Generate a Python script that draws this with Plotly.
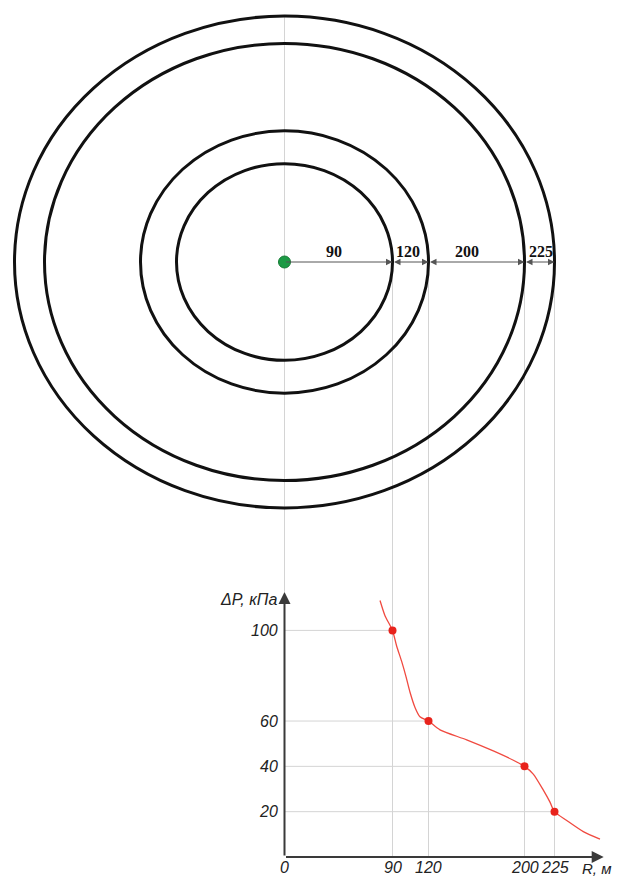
import plotly.graph_objects as go

# ---------------- data ----------------
RADII = [90, 120, 200, 225]
RADIUS_LABELS = ["90", "120", "200", "225"]
POINT_R = [90, 120, 200, 225]
POINT_DP = [100, 60, 40, 20]
CURVE_R = [79.6, 83.75, 90, 93.5, 97.7, 101.3, 104.6, 108.75, 112.9, 120,
           129.6, 151.8, 174, 190.7, 200, 207.3, 215.7, 221.25, 225,
           235.2, 249, 262.9]
CURVE_DP = [113.2, 106.5, 100, 93.0, 86.2, 79.5, 72.7, 66.0, 61.9, 60,
            56.1, 51.7, 46.8, 42.7, 40, 36.6, 29.5, 24.2, 20,
            16.1, 11.2, 7.9]
Y_TICKS = [100, 60, 40, 20]
X_TICKS = [0, 90, 120, 200, 225]
Y_TITLE = "ΔP, кПа"
X_TITLE = "R, м"

# ---------------- geometry ----------------
W, H = 619, 878
X0PX, XS = 284.5, 1.2      # x origin pixel, px per metre
CY, YS2 = 262, 1.093       # circle centre pixel, px per metre (vertical)
Y0PX, YS = 857, 2.266      # kPa zero pixel, px per kPa
AXIS_Y_TOP = 117
AXIS_X_RIGHT = 266

xrange_ = [-X0PX / XS, (W - X0PX) / XS]
y2range = [-(H - CY) / YS2, CY / YS2]
yrange = [-(H - Y0PX) / YS, Y0PX / YS]


def y_to_paper(v):
    return (v - yrange[0]) / (yrange[1] - yrange[0])


def y2_to_paper(v):
    return (v - y2range[0]) / (y2range[1] - y2range[0])


fig = go.Figure()

# curve
fig.add_trace(go.Scatter(x=CURVE_R, y=CURVE_DP, mode="lines",
                         line=dict(color="#f04a40", width=1.3, shape="spline", smoothing=0.7),
                         hoverinfo="skip", showlegend=False))
# points
fig.add_trace(go.Scatter(x=POINT_R, y=POINT_DP, mode="markers",
                         marker=dict(color="#e8231c", size=8),
                         showlegend=False))
# green centre
fig.add_trace(go.Scatter(x=[0], y=[0], yaxis="y2", mode="markers",
                         marker=dict(color="#1c9a45", size=12,
                                     line=dict(color="#137a33", width=1)),
                         showlegend=False))

shapes = []
grid = dict(color="#d4d4d4", width=1)
# vertical line through centre
shapes.append(dict(type="line", xref="x", yref="paper", x0=0, x1=0,
                   y0=y_to_paper(AXIS_Y_TOP), y1=y2_to_paper(max(RADII)),
                   line=grid, layer="below"))
# vertical lines from circles down to the axis
for r in RADII:
    shapes.append(dict(type="line", xref="x", yref="paper", x0=r, x1=r,
                       y0=y_to_paper(0), y1=y2_to_paper(0),
                       line=grid, layer="below"))
# horizontal grid lines
for r, p in zip(POINT_R, POINT_DP):
    shapes.append(dict(type="line", xref="x", yref="y", x0=0, x1=r, y0=p, y1=p,
                       line=grid, layer="below"))
# circles
for r in RADII:
    shapes.append(dict(type="circle", xref="x", yref="y2", x0=-r, x1=r, y0=-r, y1=r,
                       line=dict(color="#111111", width=3)))

ann = []
# dimension arrows
prev = 0
for i, r in enumerate(RADII):
    ann.append(dict(x=r, y=0, ax=prev, ay=0, xref="x", yref="y2", axref="x", ayref="y2",
                    text="", showarrow=True, arrowhead=2, arrowsize=1.3, arrowwidth=1,
                    arrowcolor="#555555", arrowside="end" if i == 0 else "end+start",
                    standoff=0, startstandoff=0))
    prev = r
# dimension labels
prev = 0
shifts = [-5, -3, -10, 1]
for r, lab, sh in zip(RADII, RADIUS_LABELS, shifts):
    ann.append(dict(x=(prev + r) / 2, y=0, xref="x", yref="y2", text=lab, showarrow=False,
                    xshift=sh, yshift=11, yanchor="middle",
                    font=dict(family="Liberation Serif, Times New Roman", size=16,
                              color="#111111", weight="bold")))
    prev = r

# axes with arrows
ann.append(dict(x=0, y=AXIS_Y_TOP, ax=0, ay=0, xref="x", yref="y", axref="x", ayref="y",
                text="", showarrow=True, arrowhead=2, arrowsize=1.2, arrowwidth=2,
                arrowcolor="#3a3a3a", standoff=0))
ann.append(dict(x=AXIS_X_RIGHT, y=0, ax=0, ay=0, xref="x", yref="y", axref="x", ayref="y",
                text="", showarrow=True, arrowhead=2, arrowsize=1.2, arrowwidth=2,
                arrowcolor="#3a3a3a", standoff=0))

tick_font = dict(family="Liberation Sans, Arial", size=16, color="#222222", style="italic")
for v in Y_TICKS:
    ann.append(dict(x=0, y=v, xref="x", yref="y", text=str(v), showarrow=False,
                    xanchor="right", yanchor="middle", xshift=-5, font=tick_font))
for v in X_TICKS:
    ann.append(dict(x=v, y=0, xref="x", yref="y", text=str(v), showarrow=False,
                    xanchor="center", yanchor="middle", yshift=-10, font=tick_font))
ann.append(dict(x=0, y=AXIS_Y_TOP, xref="x", yref="y", text=Y_TITLE, showarrow=False,
                xanchor="right", yanchor="middle", xshift=-6, yshift=-8, font=tick_font))
ann.append(dict(x=AXIS_X_RIGHT, y=0, xref="x", yref="y", text=X_TITLE, showarrow=False,
                xanchor="left", yanchor="middle", xshift=-24, yshift=-11,
                font=dict(family="Liberation Sans, Arial", size=15, color="#222222",
                          style="italic")))

fig.update_layout(
    width=W, height=H, margin=dict(l=0, r=0, t=0, b=0),
    paper_bgcolor="white", plot_bgcolor="white",
    xaxis=dict(range=xrange_, visible=False, fixedrange=True),
    yaxis=dict(range=yrange, visible=False, fixedrange=True),
    yaxis2=dict(range=y2range, visible=False, overlaying="y", fixedrange=True),
    shapes=shapes, annotations=ann, showlegend=False,
)

fig.write_html("out.html", config={"displayModeBar": False},
               post_script="document.body.style.margin='0';document.body.style.overflow='hidden';")
